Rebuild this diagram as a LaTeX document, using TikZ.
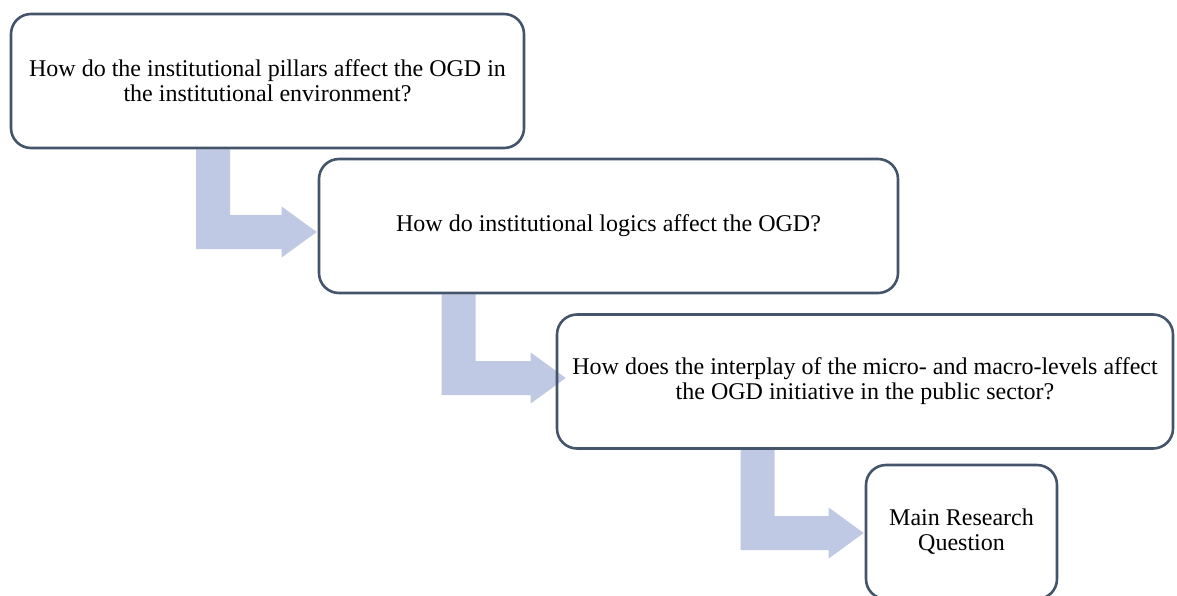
\documentclass[tikz,border=0pt]{standalone}
\usepackage{fontspec}
\setmainfont{Liberation Serif}
\usetikzlibrary{calc,backgrounds}

\definecolor{boxline}{RGB}{68,84,106}
\definecolor{flowfill}{RGB}{192,201,227}

% Bent block arrow: #1 source node, #2 target node, #3 coordinate giving the
% stem's centre x, #4 vertical shift of the arrow axis, #5 tip overshoot.
\newcommand\bentarrow[5]{%
  \coordinate (arrowtip) at ($(#2.west)+(#5,#4)$);
  \fill[flowfill]
    ($(#3 |- #1.south)+(-17,0)$) -- ($(#3 |- #1.south)+(17,0)$)
    -- ($(#3 |- arrowtip)+(17,-17)$) -- ($(arrowtip)+(-35,-17)$)
    -- ($(arrowtip)+(-35,-25.5)$) -- (arrowtip)
    -- ($(arrowtip)+(-35,25.5)$) -- ($(arrowtip)+(-35,17)$)
    -- ($(#3 |- arrowtip)+(-17,17)$) -- cycle;
}

\begin{document}
\begin{tikzpicture}[x=1pt,y=-1pt,
  question/.style={draw=boxline, line width=2.6pt, rounded corners=20pt,
    align=center, inner sep=0pt, minimum height=134pt,
    font=\fontsize{24}{25}\selectfont}]
  \useasboundingbox (0,0) rectangle (1177,595);
  \clip (0,0) rectangle (1177,595);

  % question boxes
  \node[question, minimum width=513pt] (q1) at (267.5,81)
    {How do the institutional pillars affect the OGD in\\the institutional environment?};
  \node[question, minimum width=579pt] (q2) at (608.5,226)
    {How do institutional logics affect the OGD?};
  \node[question, minimum width=616pt] (q3) at (865,381.5)
    {How does the interplay of the micro- and macro-levels affect\\the OGD initiative in the public sector?};
  \node[question, minimum width=191pt] (q4) at (961.5,532)
    {Main Research\\Question};

  % stem positions of the block arrows
  \coordinate (s1) at (213,0);
  \coordinate (s2) at (458.5,0);
  \coordinate (s3) at (757.5,0);

  % block arrows behind the box outlines
  \begin{scope}[on background layer]
    \bentarrow{q1}{q2}{s1}{6}{-1}
    \bentarrow{q2}{q3}{s2}{-3.5}{10}
    \bentarrow{q3}{q4}{s3}{1}{-1}
  \end{scope}
\end{tikzpicture}
\end{document}
